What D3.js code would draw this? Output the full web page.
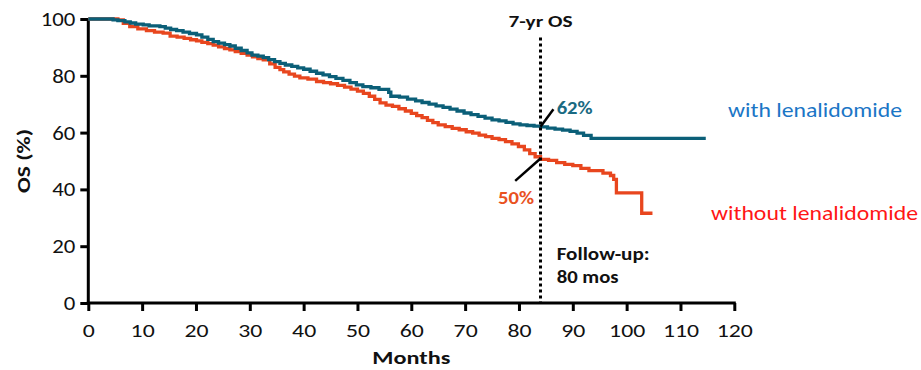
<!DOCTYPE html>
<html>
<head>
<meta charset="utf-8">
<script src="https://cdn.jsdelivr.net/npm/d3@7"></script>
<style>
  body { margin: 0; background: #fff; }
  svg { display: block; }
  text { font-family: Carlito, Lato, "Open Sans", sans-serif; }
</style>
</head>
<body>
<svg id="chart" width="921" height="370"></svg>
<script>
// ---- data (months, OS %) ----
const withLenaMonths = [0,4.6,5.5,6.8,7.8,8.8,10.2,11.3,13.3,14.3,15.3,16.4,17.6,18.8,20.1,21.1,22.2,23.2,24.2,25.3,26.3,27.3,28.4,29.5,30.4,31.5,32.5,33.5,34.6,35.6,36.6,37.8,38.9,40.0,41.2,42.4,43.6,44.8,46.0,47.3,48.6,49.8,51.0,52.5,54.0,55.8,56.2,57.8,59.3,60.8,62.0,63.3,64.6,65.9,67.2,68.5,69.8,71.1,72.4,73.7,75.0,76.3,77.6,78.9,80.2,81.5,82.8,84.0,85.3,86.7,88.1,89.5,90.8,92.0,93.4,114.7];
const withLenaOS = [100,99.7,99.4,99.0,98.6,98.2,97.9,97.6,97.3,96.8,96.3,95.9,95.4,94.9,94.4,93.6,92.8,92.0,91.5,91.0,90.5,89.7,88.9,88.1,87.3,86.9,86.4,85.7,85.0,84.4,83.8,83.3,82.8,82.3,81.6,80.9,80.3,79.7,79.1,78.4,77.6,76.8,76.2,75.8,75.2,74.2,72.8,72.5,71.8,71.2,70.6,70.0,69.4,68.9,68.3,67.6,66.9,66.3,65.7,65.1,64.5,64.1,63.6,63.1,62.7,62.5,62.3,62.0,61.6,61.2,60.9,60.4,59.8,59.0,58.0,58.0];

const withoutLenaMonths = [0,5.5,6.5,7.7,9.2,10.8,12.3,13.9,15.2,16.5,17.8,19.0,20.1,21.1,22.2,23.2,24.2,25.3,26.3,27.3,28.4,29.5,30.5,31.5,32.5,33.7,34.7,35.6,36.3,37.3,38.3,39.3,40.8,42.4,43.7,45.0,46.3,47.6,48.8,50.0,51.1,52.2,53.2,54.2,55.3,56.5,57.7,58.9,60.0,61.0,62.0,63.0,64.0,65.0,66.3,67.6,68.9,70.2,71.4,72.6,73.8,75.0,76.3,77.5,78.7,79.9,81.0,82.0,83.0,84.0,85.5,87.0,88.5,90.0,91.5,93.0,95.6,97.0,97.6,98.1,102.8,104.8];
const withoutLenaOS = [100,99.7,98.5,97.3,96.5,95.9,95.4,95.0,94.0,93.6,93.2,92.7,92.3,91.8,91.3,90.8,90.2,89.6,89.1,88.5,87.9,87.3,86.7,86.1,85.6,84.2,83.0,82.2,81.4,80.6,79.9,79.3,78.8,78.0,77.6,77.2,76.6,76.0,75.3,74.6,73.8,72.8,71.7,70.5,69.7,69.2,68.4,67.6,66.8,66.0,65.3,64.3,63.5,62.7,62.1,61.5,61.0,60.3,59.8,59.1,58.6,58.0,57.5,56.8,56.0,55.1,53.9,52.6,51.5,50.6,50.2,49.4,48.8,48.4,47.4,46.6,45.7,44.9,43.5,38.8,31.6,31.6];

const xTicks = [0,10,20,30,40,50,60,70,80,90,100,110,120];
const yTicks = [0,20,40,60,80,100];
const seriesNames = ["with lenalidomide", "without lenalidomide"];
const landmarkMonth = 84;
const landmarkLabel = "7-yr OS";
const landmarkValues = ["62%", "50%"];
const followUp = ["Follow-up:", "80 mos"];

// ---- helpers ----
function stretchTo(sel, width) {
  sel.attr("textLength", width).attr("lengthAdjust", "spacingAndGlyphs");
  return sel;
}
function stretchBy(sel, factor) {
  sel.each(function () {
    const w = this.getComputedTextLength();
    d3.select(this).attr("textLength", w * factor).attr("lengthAdjust", "spacingAndGlyphs");
  });
  return sel;
}

// ---- layout ----
const svg = d3.select("#chart");
const x = d3.scaleLinear().domain([0, 120]).range([88.3, 734.3]);
const y = d3.scaleLinear().domain([0, 100]).range([303, 19]);

const tealLine = "#0b5f78";
const orangeLine = "#e8461e";
const FONT = "Carlito, Lato, 'Open Sans', sans-serif";

// axes
const xAxis = svg.append("g").attr("transform", `translate(0,${y(0)})`)
  .call(d3.axisBottom(x).tickValues(xTicks).tickSize(8).tickPadding(13).tickSizeOuter(0));
const yAxis = svg.append("g").attr("transform", `translate(${x(0)},0)`)
  .call(d3.axisLeft(y).tickValues(yTicks).tickSize(8).tickPadding(5).tickSizeOuter(0));
[xAxis, yAxis].forEach(g => {
  g.select(".domain").attr("stroke", "#000").attr("stroke-width", 3);
  g.selectAll(".tick line").attr("stroke", "#000").attr("stroke-width", 3);
  g.selectAll(".tick text").attr("fill", "#111").style("font-family", FONT);
});
xAxis.selectAll(".tick text").style("font-size", "19px");
yAxis.selectAll(".tick text").style("font-size", "20px");
stretchBy(xAxis.selectAll(".tick text"), 1.25);
stretchBy(yAxis.selectAll(".tick text"), 1.14);
xAxis.select(".domain").attr("d", `M${x(0)-1.5},0H${x(120)+1.5}`);
yAxis.select(".domain").attr("d", `M0,${y(0)+1.5}V${y(100)}`);

// axis titles
stretchTo(svg.append("text").attr("x", (x(0)+x(120))/2).attr("y", 364)
  .attr("text-anchor", "middle").style("font-size", "19px").style("font-weight", "bold")
  .attr("fill", "#111").text("Months"), 78);
stretchTo(svg.append("text").attr("transform", `translate(30,${(y(0)+y(100))/2}) rotate(-90)`)
  .attr("text-anchor", "middle").style("font-size", "19px").style("font-weight", "bold")
  .attr("fill", "#111").text("OS (%)"), 64);

// curves
const line = d3.line().x(d => x(d[0])).y(d => y(d[1])).curve(d3.curveStepAfter);
const tealData = withLenaMonths.map((m, i) => [m, withLenaOS[i]]);
const orangeData = withoutLenaMonths.map((m, i) => [m, withoutLenaOS[i]]);

svg.append("path").datum(orangeData).attr("d", line)
  .attr("fill", "none").attr("stroke", orangeLine).attr("stroke-width", 3.3);
svg.append("path").datum(tealData).attr("d", line)
  .attr("fill", "none").attr("stroke", tealLine).attr("stroke-width", 3.3);

// landmark dotted line
svg.append("line").attr("x1", x(landmarkMonth)).attr("x2", x(landmarkMonth))
  .attr("y1", y(93.5)).attr("y2", y(0))
  .attr("stroke", "#000").attr("stroke-width", 3).attr("stroke-dasharray", "3,3");
stretchTo(svg.append("text").attr("x", x(landmarkMonth)).attr("y", 27)
  .attr("text-anchor", "middle").style("font-size", "16px").style("font-weight", "bold")
  .attr("fill", "#111").text(landmarkLabel), 64);

// leader lines
svg.append("line").attr("x1", x(84)).attr("y1", y(62.1)).attr("x2", x(86.4)).attr("y2", y(68.2))
  .attr("stroke", "#000").attr("stroke-width", 2.5);
svg.append("line").attr("x1", x(84)).attr("y1", y(50.9)).attr("x2", x(79.3)).attr("y2", y(43.0))
  .attr("stroke", "#000").attr("stroke-width", 2.5);

stretchTo(svg.append("text").attr("x", x(87.0)).attr("y", 114)
  .style("font-size", "17px").style("font-weight", "bold").attr("fill", "#1a6a82").text(landmarkValues[0]), 36);
stretchTo(svg.append("text").attr("x", x(76.1)).attr("y", 204)
  .style("font-size", "17px").style("font-weight", "bold").attr("fill", "#e9521f").text(landmarkValues[1]), 36);

stretchTo(svg.append("text").attr("x", x(87.0)).attr("y", 260)
  .style("font-size", "17px").style("font-weight", "bold").attr("fill", "#111").text(followUp[0]), 93);
stretchBy(svg.append("text").attr("x", x(87.0)).attr("y", 283)
  .style("font-size", "17px").style("font-weight", "bold").attr("fill", "#111").text(followUp[1]), 1.22);

// series labels
stretchTo(svg.append("text").attr("x", 728).attr("y", 117)
  .style("font-size", "20px").attr("fill", "#1b76c6").text(seriesNames[0]), 174);
stretchTo(svg.append("text").attr("x", 711).attr("y", 220)
  .style("font-size", "20px").attr("fill", "#ff1616").text(seriesNames[1]), 207);
</script>
</body>
</html>
